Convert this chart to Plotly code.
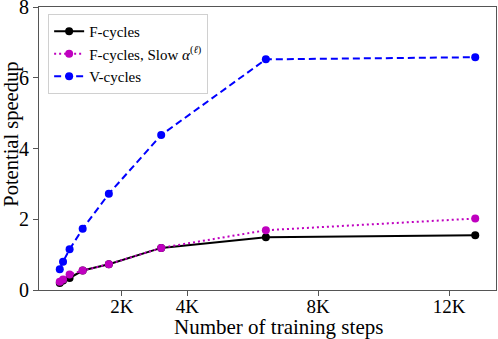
import plotly.graph_objects as go

# ======================================================================================================
# Data
# ======================================================================================================

steps = [100, 200, 400, 800, 1600, 3200, 6400, 12800]
f_cycles = [0.20, 0.27, 0.34, 0.55, 0.73, 1.19, 1.49, 1.55]
f_cycles_slow = [0.23, 0.30, 0.44, 0.55, 0.73, 1.19, 1.69, 2.02]
v_cycles = [0.59, 0.80, 1.15, 1.73, 2.72, 4.38, 6.52, 6.58]

tick_vals = [2000, 4000, 8000, 12000]
tick_text = ['2K', '4K', '8K', '12K']

# ======================================================================================================
# Plot
# ======================================================================================================

FONT = 'Liberation Serif, DejaVu Serif, serif'

fig = go.Figure()
fig.add_trace(go.Scatter(x=steps, y=f_cycles, mode='lines+markers',
                         name='F-cycles',
                         line=dict(color='black', width=2),
                         marker=dict(color='black', size=8)))
fig.add_trace(go.Scatter(x=steps, y=f_cycles_slow, mode='lines+markers',
                         name='F-cycles, Slow <i>α</i><sup>(<i>ℓ</i>)</sup>',
                         line=dict(color='#bf00bf', width=2, dash='2px,3px'),
                         marker=dict(color='#bf00bf', size=8)))
fig.add_trace(go.Scatter(x=steps, y=v_cycles, mode='lines+markers',
                         name='V-cycles',
                         line=dict(color='#0000ff', width=2, dash='7px,4px'),
                         marker=dict(color='#0000ff', size=8)))

fig.update_layout(
    width=498, height=339,
    margin=dict(l=39, r=2, t=7, b=49, autoexpand=False),
    plot_bgcolor='white', paper_bgcolor='white',
    font=dict(family=FONT, color='black', size=19),
    showlegend=True,
    legend=dict(x=0.02, y=0.975, xanchor='left', yanchor='top',
                bgcolor='rgba(255,255,255,0.8)', bordercolor='#d0d0d0', borderwidth=1,
                font=dict(size=15), tracegroupgap=0, itemwidth=30),
    annotations=[
        dict(text='Number of training steps', xref='paper', yref='paper',
             x=0.523, y=-0.129, xanchor='center', yanchor='middle', showarrow=False,
             font=dict(size=21)),
        dict(text='Potential speedup', xref='paper', yref='paper',
             x=-0.062, y=0.551, xanchor='center', yanchor='middle', textangle=-90,
             showarrow=False, font=dict(size=20.5)),
    ],
)
fig.update_xaxes(range=[-535, 13435], tickvals=tick_vals, ticktext=tick_text,
                 showgrid=False, zeroline=False, showline=True, linecolor='#555555',
                 linewidth=1, mirror=True, ticks='outside', ticklen=5, tickcolor='#555555',
                 tickfont=dict(size=19), ticklabelstandoff=-6, automargin=False)
fig.update_yaxes(range=[0, 8], tickvals=[0, 2, 4, 6, 8],
                 showgrid=False, zeroline=False, showline=True, linecolor='#555555',
                 linewidth=1, mirror=True, ticks='outside', ticklen=5, tickcolor='#555555',
                 tickfont=dict(size=20), ticklabeloverflow='allow', automargin=False)

fig.write_html("out.html", config={'displayModeBar': False},
               post_script="document.body.style.margin='0';")
